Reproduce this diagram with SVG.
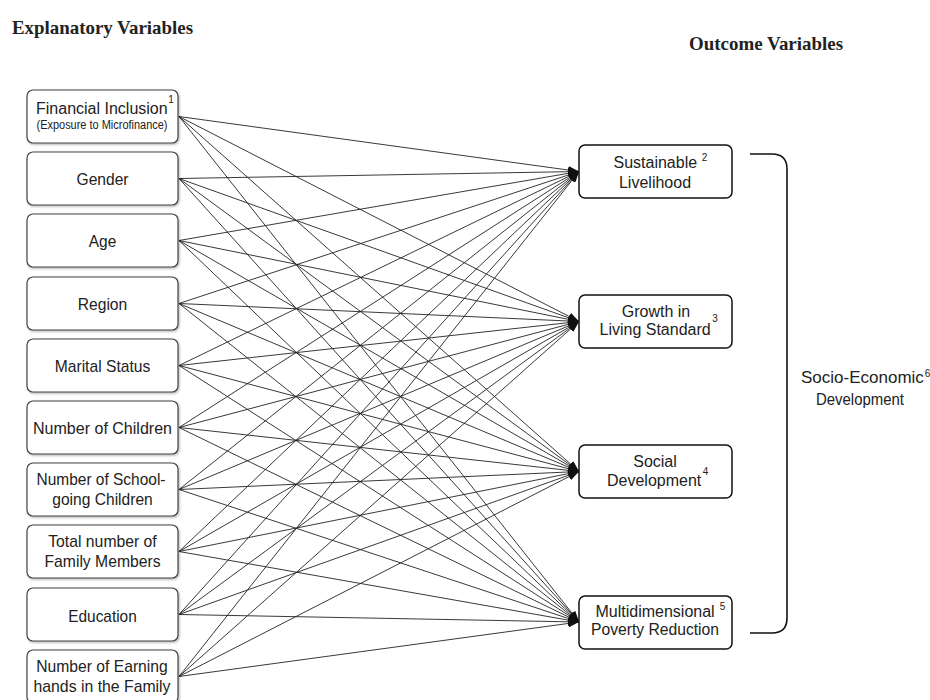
<svg xmlns="http://www.w3.org/2000/svg" width="930" height="700" viewBox="0 0 930 700">
<style>
.hd{font-family:"Liberation Serif","Times New Roman",serif;font-weight:bold;font-size:19px;fill:#222}
.t{font-family:"Liberation Sans",Arial,sans-serif;font-size:17px;fill:#222;text-anchor:middle}
.r{font-family:"Liberation Sans",Arial,sans-serif;font-size:16px;fill:#222;text-anchor:middle}
.st{text-anchor:start}
.md{text-anchor:middle}
.f16{font-size:16px}
.f17{font-size:17px}
.s{font-size:12px}
.sup{font-size:10px}
.lb{fill:#fff;stroke:#444;stroke-width:1.2}
.rb{fill:#fff;stroke:#111;stroke-width:1.5}
.c{stroke:#222;stroke-width:0.9;fill:none}
</style>
<defs>
<filter id="sh" x="-10%" y="-10%" width="130%" height="130%">
<feDropShadow dx="1" dy="1.2" stdDeviation="1" flood-color="#000" flood-opacity="0.3"/>
</filter>
<marker id="ah" markerUnits="userSpaceOnUse" markerWidth="11" markerHeight="8" refX="11" refY="4" orient="auto">
<path d="M0,0 L11,4 L0,8 z" fill="#111"/>
</marker>
</defs>
<rect width="930" height="700" fill="#fff"/>
<text class="hd" x="12" y="34" textLength="181" lengthAdjust="spacingAndGlyphs">Explanatory Variables</text>
<text class="hd" x="689" y="50" textLength="154" lengthAdjust="spacingAndGlyphs">Outcome Variables</text>

<g id="connectors" marker-end="url(#ah)" class="c">
<line x1="179" y1="116.5" x2="579" y2="171.5"/><line x1="179" y1="116.5" x2="579" y2="321.5"/><line x1="179" y1="116.5" x2="579" y2="471.5"/><line x1="179" y1="116.5" x2="579" y2="622"/>
<line x1="179" y1="178.5" x2="579" y2="171.5"/><line x1="179" y1="178.5" x2="579" y2="321.5"/><line x1="179" y1="178.5" x2="579" y2="471.5"/><line x1="179" y1="178.5" x2="579" y2="622"/>
<line x1="179" y1="240.5" x2="579" y2="171.5"/><line x1="179" y1="240.5" x2="579" y2="321.5"/><line x1="179" y1="240.5" x2="579" y2="471.5"/><line x1="179" y1="240.5" x2="579" y2="622"/>
<line x1="179" y1="303.5" x2="579" y2="171.5"/><line x1="179" y1="303.5" x2="579" y2="321.5"/><line x1="179" y1="303.5" x2="579" y2="471.5"/><line x1="179" y1="303.5" x2="579" y2="622"/>
<line x1="179" y1="365.5" x2="579" y2="171.5"/><line x1="179" y1="365.5" x2="579" y2="321.5"/><line x1="179" y1="365.5" x2="579" y2="471.5"/><line x1="179" y1="365.5" x2="579" y2="622"/>
<line x1="179" y1="427.5" x2="579" y2="171.5"/><line x1="179" y1="427.5" x2="579" y2="321.5"/><line x1="179" y1="427.5" x2="579" y2="471.5"/><line x1="179" y1="427.5" x2="579" y2="622"/>
<line x1="179" y1="489.5" x2="579" y2="171.5"/><line x1="179" y1="489.5" x2="579" y2="321.5"/><line x1="179" y1="489.5" x2="579" y2="471.5"/><line x1="179" y1="489.5" x2="579" y2="622"/>
<line x1="179" y1="551.5" x2="579" y2="171.5"/><line x1="179" y1="551.5" x2="579" y2="321.5"/><line x1="179" y1="551.5" x2="579" y2="471.5"/><line x1="179" y1="551.5" x2="579" y2="622"/>
<line x1="179" y1="614.5" x2="579" y2="171.5"/><line x1="179" y1="614.5" x2="579" y2="321.5"/><line x1="179" y1="614.5" x2="579" y2="471.5"/><line x1="179" y1="614.5" x2="579" y2="622"/>
<line x1="179" y1="676.5" x2="579" y2="171.5"/><line x1="179" y1="676.5" x2="579" y2="321.5"/><line x1="179" y1="676.5" x2="579" y2="471.5"/><line x1="179" y1="676.5" x2="579" y2="622"/>
</g>

<g id="n-financial"><rect class="lb" filter="url(#sh)" x="27" y="90" width="151" height="53" rx="6"/><text class="t st"><tspan class="st f16" x="36" y="114">Financial Inclusion</tspan><tspan class="sup" dx="0.5" dy="-11">1</tspan><tspan class="s md" x="102" y="129" textLength="131" lengthAdjust="spacingAndGlyphs">(Exposure to Microfinance)</tspan></text></g>
<g id="n-gender"><rect class="lb" filter="url(#sh)" x="27" y="152" width="151" height="53" rx="6"/><text class="t" x="102.5" y="185" textLength="52" lengthAdjust="spacingAndGlyphs">Gender</text></g>
<g id="n-age"><rect class="lb" filter="url(#sh)" x="27" y="214" width="151" height="53" rx="6"/><text class="t" x="102.5" y="247" textLength="27.5" lengthAdjust="spacingAndGlyphs">Age</text></g>
<g id="n-region"><rect class="lb" filter="url(#sh)" x="27" y="277" width="151" height="53" rx="6"/><text class="t" x="102.5" y="310" textLength="49.5" lengthAdjust="spacingAndGlyphs">Region</text></g>
<g id="n-marital"><rect class="lb" filter="url(#sh)" x="27" y="339" width="151" height="53" rx="6"/><text class="t" x="102.5" y="372" textLength="95.5" lengthAdjust="spacingAndGlyphs">Marital Status</text></g>
<g id="n-children"><rect class="lb" filter="url(#sh)" x="27" y="401" width="151" height="53" rx="6"/><text class="t" x="102.5" y="434" textLength="139" lengthAdjust="spacingAndGlyphs">Number of Children</text></g>
<g id="n-school"><rect class="lb" filter="url(#sh)" x="27" y="463" width="151" height="53" rx="6"/><text class="t"><tspan x="101" y="485" textLength="129" lengthAdjust="spacingAndGlyphs">Number of School-</tspan><tspan x="102.5" y="505" textLength="100.5" lengthAdjust="spacingAndGlyphs">going Children</tspan></text></g>
<g id="n-family"><rect class="lb" filter="url(#sh)" x="27" y="525" width="151" height="53" rx="6"/><text class="t"><tspan x="102.5" y="547" textLength="108.5" lengthAdjust="spacingAndGlyphs">Total number of</tspan><tspan x="102.5" y="567" textLength="116" lengthAdjust="spacingAndGlyphs">Family Members</tspan></text></g>
<g id="n-education"><rect class="lb" filter="url(#sh)" x="27" y="588" width="151" height="53" rx="6"/><text class="t" x="102.5" y="622" textLength="68.5" lengthAdjust="spacingAndGlyphs">Education</text></g>
<g id="n-earning"><rect class="lb" filter="url(#sh)" x="27" y="650" width="151" height="53" rx="6"/><text class="t"><tspan x="102" y="672" textLength="131.5" lengthAdjust="spacingAndGlyphs">Number of Earning</tspan><tspan x="102" y="692" textLength="137" lengthAdjust="spacingAndGlyphs">hands in the Family</tspan></text></g>

<g id="o-livelihood"><rect class="rb" x="579" y="145" width="153" height="53" rx="6"/><text class="r st"><tspan class="st" x="613.5" y="167.5">Sustainable</tspan><tspan class="sup" dx="4.5" dy="-7">2</tspan><tspan class="md" x="655" y="188">Livelihood</tspan></text></g>
<g id="o-living"><rect class="rb" x="579" y="295" width="153" height="53" rx="6"/><text class="r st"><tspan class="md" x="656" y="317">Growth in</tspan><tspan class="st" x="599.5" y="334.5">Living Standard</tspan><tspan class="sup" dx="1.5" dy="-12.5">3</tspan></text></g>
<g id="o-social"><rect class="rb" x="579" y="445" width="153" height="53" rx="6"/><text class="r st"><tspan class="md" x="655" y="467">Social</tspan><tspan class="st" x="607" y="486">Development</tspan><tspan class="sup" dx="1.5" dy="-11">4</tspan></text></g>
<g id="o-poverty"><rect class="rb" x="579" y="596" width="153" height="53" rx="6"/><text class="r st"><tspan class="st" x="595.5" y="617">Multidimensional</tspan><tspan class="sup" dx="5" dy="-7">5</tspan><tspan class="md" x="655" y="635" textLength="128" lengthAdjust="spacingAndGlyphs">Poverty Reduction</tspan></text></g>

<g id="bracket"><path d="M750,154 H772 Q787,154 787,169 V618 Q787,633 772,633 H750" fill="none" stroke="#111" stroke-width="1.6"/></g>
<g id="socio"><text class="r st"><tspan class="st f17" x="801" y="383">Socio-Economic</tspan><tspan class="sup" dx="1" dy="-6">6</tspan><tspan class="md" x="860" y="405" textLength="88" lengthAdjust="spacingAndGlyphs">Development</tspan></text></g>
</svg>
